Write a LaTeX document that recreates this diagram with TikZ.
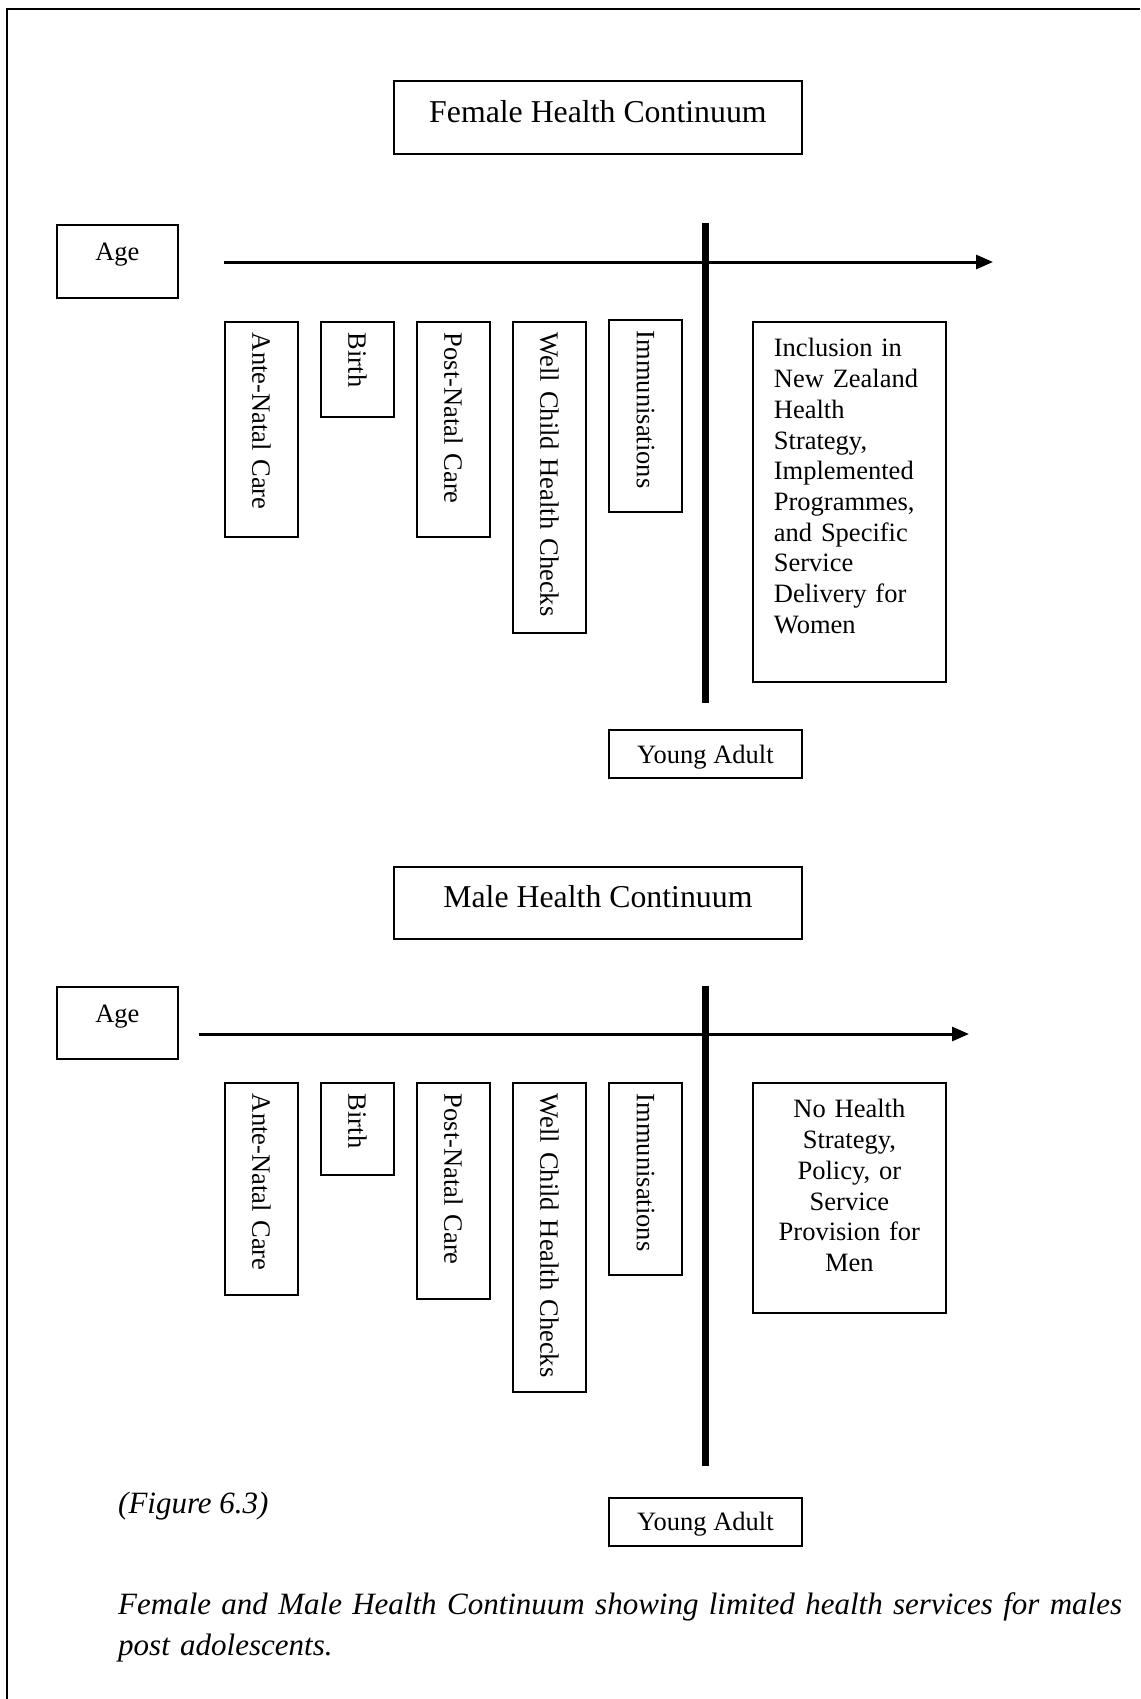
\documentclass[tikz,border=0pt]{standalone}
\usepackage{fontspec}
\setmainfont{Liberation Serif}
\usepackage{tikz}
\usetikzlibrary{arrows.meta}

\newcommand{\bodyfont}{\fontsize{26.5}{30.7}\selectfont}
\newcommand{\headfont}{\fontsize{31.8}{41}\selectfont}
\newcommand{\capfont}{\fontsize{31}{41}\selectfont\itshape}

\begin{document}
\begin{tikzpicture}[x=1pt, y=-1pt,
  box/.style={draw, line width=1.8pt, inner sep=0pt, font=\bodyfont},
  stage/.style={box, rotate=-90, anchor=south west, minimum height=73pt, inner xsep=11pt, align=left},
  axis/.style={line width=3pt, -{Triangle[length=17pt, width=14pt]}},
  divider/.style={line width=7pt}]
\useasboundingbox (0,0) rectangle (1140,1699);

% page frame
\draw[line width=2pt] (7,1699) -- (7,9) -- (1140,9);

% Female continuum
\node[box, font=\headfont, anchor=north west, minimum width=408pt, text height=42pt, text depth=31pt] (ftitle) at (393,80) {Female Health Continuum};
\node[box, anchor=north west, minimum width=121pt, text height=36pt, text depth=37pt] (fage) at (56,224) {Age};
\coordinate (fstart) at (224,262);
\coordinate (fend) at (993,262);
\draw[axis] (fstart) -- (fend);
\coordinate (ftop) at (705,223);
\coordinate (fbot) at (705,703);
\draw[divider] (ftop) -- (fbot);

\node[stage, text width=193pt] (fante) at (224,321) {Ante-Natal Care};
\node[stage, text width=73pt] (fbirth) at (320,321) {Birth};
\node[stage, text width=193pt] (fpost) at (416,321) {Post-Natal Care};
\node[stage, text width=289pt] (fwell) at (512,321) {Well Child Health Checks};
\node[stage, text width=170pt] (fimm) at (608,319) {Immunisations};

\node[box, anchor=north west, text width=151pt, inner xsep=21pt, align=left, text height=35pt, text depth=325pt] (fplan) at (752,321)
  {Inclusion in\\ New Zealand\\ Health\\ Strategy,\\ Implemented\\ Programmes,\\ and Specific\\ Service\\ Delivery for\\ Women};
\node[box, anchor=north west, minimum width=193pt, text height=34pt, text depth=14pt] (fyoung) at (608,729) {Young Adult};

% Male continuum
\node[box, font=\headfont, anchor=north west, minimum width=408pt, text height=41pt, text depth=31pt] (mtitle) at (393,866) {Male Health Continuum};
\node[box, anchor=north west, minimum width=121pt, text height=36pt, text depth=36pt] (mage) at (56,986) {Age};
\coordinate (mstart) at (199,1034);
\coordinate (mend) at (969,1034);
\draw[axis] (mstart) -- (mend);
\coordinate (mtop) at (705,986);
\coordinate (mbot) at (705,1466);
\draw[divider] (mtop) -- (mbot);

\node[stage, text width=190pt] (mante) at (224,1082) {Ante-Natal Care};
\node[stage, text width=70pt] (mbirth) at (320,1082) {Birth};
\node[stage, text width=194pt] (mpost) at (416,1082) {Post-Natal Care};
\node[stage, text width=287pt] (mwell) at (512,1082) {Well Child Health Checks};
\node[stage, text width=170pt] (mimm) at (608,1082) {Immunisations};

\node[box, anchor=north west, text width=173pt, inner xsep=10pt, align=center, text height=35pt, text depth=195pt] (mplan) at (752,1082)
  {No Health\\ Strategy,\\ Policy, or\\ Service\\ Provision for\\ Men};
\node[box, anchor=north west, minimum width=193pt, text height=33pt, text depth=15pt] (myoung) at (608,1497) {Young Adult};

% caption
\node[anchor=base west, inner sep=0pt, font=\capfont] (fignum) at (118,1513) {(Figure 6.3)};
\node[anchor=base west, inner sep=0pt, font=\capfont, text width=1100pt, align=left] (caption) at (118,1614)
  {Female and Male Health Continuum showing limited health services for males\\ post adolescents.};
\end{tikzpicture}
\end{document}
